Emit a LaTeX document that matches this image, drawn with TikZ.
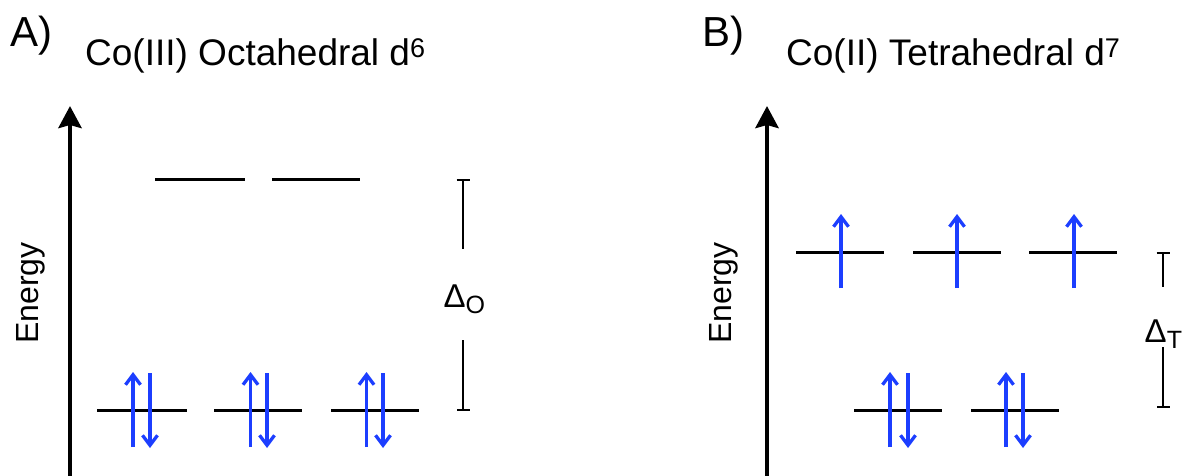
\documentclass[tikz,border=0pt]{standalone}
\usepackage{fontspec}
\setmainfont{Liberation Sans}
\usetikzlibrary{arrows.meta}
\definecolor{spinblue}{RGB}{28,62,255}
\tikzset{
  x=1pt, y=-1pt,
  panel/.style={anchor=base west, inner sep=0pt, font=\fontsize{42}{42}\selectfont},
  title/.style={anchor=base west, inner sep=0pt, font=\fontsize{37}{37}\selectfont},
  axislabel/.style={anchor=base west, inner sep=0pt, rotate=90, font=\fontsize{32}{32}\selectfont},
  gaplabel/.style={anchor=base west, inner sep=0pt, font=\fontsize{33}{33}\selectfont},
  axis/.style={line width=4.5pt, -{Stealth[length=22pt,width=23pt,inset=3pt]}},
  level/.style={line width=3pt},
  spinup/.style={spinblue, line width=3.3pt, -{Straight Barb[length=10pt,width=15pt,line width=3.3pt]}},
  gap/.style={line width=2pt},
  gapend/.tip={Bar[width=13pt,line width=2pt]}
}
\newcommand{\supnum}[1]{\raisebox{8pt}{\fontsize{27}{27}\selectfont #1}}
\newcommand{\subtxt}[1]{\raisebox{-6pt}{\fontsize{25}{25}\selectfont #1}}
\begin{document}
\begin{tikzpicture}
\path[use as bounding box] (0,0) rectangle (1184,476);

% ---------- Panel A: Co(III) octahedral ----------
\node[panel] (labA) at (10,46.5) {A)};
\node[title] (titA) at (85,66) {Co(III) Octahedral d\supnum{6}};
\coordinate (axAbot) at (70,476);
\coordinate (axAtop) at (70,106);
\draw[axis] (axAbot) -- (axAtop);
\node[axislabel] (enA) at (38.5,344) {Energy};

% e_g levels (empty)
\draw[level] (155,180) -- (245,180);
\draw[level] (272,180) -- (360,180);
% t_2g levels (paired)
\foreach \l/\r/\u/\d in {97/187/133/150, 214/302/250.5/267, 331/419/366.5/383}{
  \draw[level] (\l,410.5) -- (\r,410.5);
  \draw[spinup] (\u,447) -- (\u,372);
  \draw[spinup] (\d,373) -- (\d,448);
}
% splitting
\coordinate (oTop) at (463,179);
\coordinate (oTopEnd) at (463,249);
\coordinate (oBotEnd) at (463,340);
\coordinate (oBot) at (463,411);
\draw[gap, gapend-] (oTop) -- (oTopEnd);
\draw[gap, -gapend] (oBotEnd) -- (oBot);
\node[gaplabel] (dO) at (443.5,307) {Δ\subtxt{O}};

% ---------- Panel B: Co(II) tetrahedral ----------
\node[panel] (labB) at (702,46.5) {B)};
\node[title] (titB) at (786,66) {Co(II) Tetrahedral d\supnum{7}};
\coordinate (axBbot) at (767,476);
\coordinate (axBtop) at (767,106);
\draw[axis] (axBbot) -- (axBtop);
\node[axislabel] (enB) at (731,344) {Energy};

% t_2 levels (singly occupied)
\foreach \l/\r/\u in {796/884/841, 913/1001/957, 1029/1117/1074}{
  \draw[level] (\l,252) -- (\r,252);
  \draw[spinup] (\u,288) -- (\u,214);
}
% e levels (paired)
\foreach \l/\r/\u/\d in {854/942/890/908, 971/1059/1006/1023}{
  \draw[level] (\l,410.5) -- (\r,410.5);
  \draw[spinup] (\u,447) -- (\u,372);
  \draw[spinup] (\d,373) -- (\d,448);
}
% splitting
\coordinate (tTop) at (1163,252);
\coordinate (tTopEnd) at (1163,287);
\coordinate (tBotEnd) at (1163,347);
\coordinate (tBot) at (1163,408);
\draw[gap, gapend-] (tTop) -- (tTopEnd);
\draw[gap, -gapend] (tBotEnd) -- (tBot);
\node[gaplabel] (dT) at (1144.5,342) {Δ\subtxt{T}};
\end{tikzpicture}
\end{document}
